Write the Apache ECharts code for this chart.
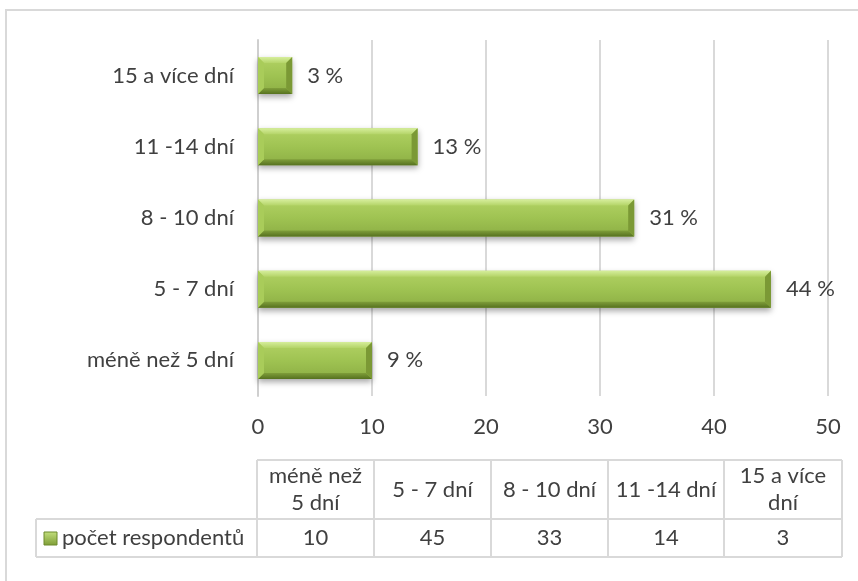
<!DOCTYPE html>
<html>
<head>
<meta charset="utf-8">
<script src="https://cdn.jsdelivr.net/npm/echarts@6/dist/echarts.min.js"></script>
<style>
    html, body { margin: 0; padding: 0; background: #fff; }
    #chart { width: 858px; height: 581px; }
</style>
</head>
<body>
<div id="chart"></div>
<script>
// data (bottom -> top on the category axis)
const categories = ['méně než 5 dní', '5 - 7 dní', '8 - 10 dní', '11 -14 dní', '15 a více dní'];
const tableHeaders = ['méně než\n5 dní', '5 - 7 dní', '8 - 10 dní', '11 -14 dní', '15 a více\ndní'];
const respondents = [10, 45, 33, 14, 3];
const pctLabels = ['9 %', '44 %', '31 %', '13 %', '3 %'];
const seriesName = 'počet respondentů';
const xTicks = [0, 10, 20, 30, 40, 50];

const FONT = 'Lato, "Open Sans", sans-serif';
const FS = 22;
const TXT = '#404040';
const LINE = '#d9d9d9';

const chart = echarts.init(document.getElementById('chart'));

// bar with bevel look, drawn through the axes
function renderBar(params, api) {
    const start = api.coord([0, api.value(1)]);
    const end = api.coord([api.value(0), api.value(1)]);
    const h = api.size([0, 1])[1] * 0.52;
    const x0 = start[0];
    const x1 = end[0];
    const y0 = start[1] - h / 2;
    const y1 = y0 + h;
    const b = 6; // bevel size
    return {
        type: 'group',
        children: [
            {
                type: 'rect',
                shape: { x: x0, y: y0, width: x1 - x0, height: h },
                style: {
                    fill: new echarts.graphic.LinearGradient(0, 0, 0, 1, [
                        { offset: 0, color: '#b2d264' },
                        { offset: 0.5, color: '#9fc352' },
                        { offset: 1, color: '#8cae44' }
                    ]),
                    shadowBlur: 6,
                    shadowOffsetY: 3,
                    shadowColor: 'rgba(0,0,0,0.35)'
                }
            },
            {   // top bevel
                type: 'polygon',
                shape: { points: [[x0, y0], [x1, y0], [x1 - b, y0 + b], [x0 + b, y0 + b]] },
                style: { fill: new echarts.graphic.LinearGradient(0, 0, 0, 1, [
                    { offset: 0, color: '#d6ee9c' },
                    { offset: 1, color: '#b4d468' }
                ]) }
            },
            {   // bottom bevel
                type: 'polygon',
                shape: { points: [[x0, y1], [x1, y1], [x1 - b, y1 - b], [x0 + b, y1 - b]] },
                style: { fill: new echarts.graphic.LinearGradient(0, 0, 0, 1, [
                    { offset: 0, color: '#7f9e3a' },
                    { offset: 1, color: '#56711f' }
                ]) }
            },
            {   // left bevel
                type: 'polygon',
                shape: { points: [[x0, y0], [x0 + b, y0 + b], [x0 + b, y1 - b], [x0, y1]] },
                style: { fill: '#a9cc5a' }
            },
            {   // right bevel
                type: 'polygon',
                shape: { points: [[x1, y0], [x1, y1], [x1 - b, y1 - b], [x1 - b, y0 + b]] },
                style: { fill: '#7b9935' }
            },
            {
                type: 'text',
                style: {
                    text: pctLabels[params.dataIndex],
                    x: x1 + 15,
                    y: (y0 + y1) / 2,
                    verticalAlign: 'middle',
                    fill: TXT,
                    font: FS + 'px ' + FONT
                }
            }
        ]
    };
}

// data table below the chart
const colEdges = [257, 374, 491, 608, 724, 842];
const rowTop = 460, rowMid = 519, rowBot = 557, legendLeft = 36;

function buildTable() {
    const els = [];
    const line = (x1, y1, x2, y2) => els.push({
        type: 'line',
        shape: { x1, y1, x2, y2 },
        style: { stroke: LINE, lineWidth: 2 }
    });
    line(colEdges[0], rowTop, colEdges[5], rowTop);
    line(legendLeft, rowMid, colEdges[5], rowMid);
    line(legendLeft, rowBot, colEdges[5], rowBot);
    line(legendLeft, rowMid, legendLeft, rowBot);
    colEdges.forEach(x => line(x, rowTop, x, rowBot));

    tableHeaders.forEach((c, i) => {
        const cx = (colEdges[i] + colEdges[i + 1]) / 2;
        els.push({
            type: 'text',
            style: {
                text: c,
                x: cx,
                y: (rowTop + rowMid) / 2,
                lineHeight: 27,
                align: 'center',
                verticalAlign: 'middle',
                fill: TXT,
                font: FS + 'px ' + FONT
            }
        });
        els.push({
            type: 'text',
            style: {
                text: String(respondents[i]),
                x: cx,
                y: (rowMid + rowBot) / 2,
                align: 'center',
                verticalAlign: 'middle',
                fill: TXT,
                font: FS + 'px ' + FONT
            }
        });
    });

    // legend key + series name
    els.push({
        type: 'rect',
        shape: { x: 44, y: 532, width: 13, height: 13 },
        style: {
            fill: new echarts.graphic.LinearGradient(0, 0, 0, 1, [
                { offset: 0, color: '#c4e07e' },
                { offset: 1, color: '#7d9c35' }
            ]),
            stroke: '#6d8a2c',
            lineWidth: 1
        }
    });
    els.push({
        type: 'text',
        style: {
            text: seriesName,
            x: 62,
            y: (rowMid + rowBot) / 2,
            verticalAlign: 'middle',
            fill: TXT,
            font: FS + 'px ' + FONT
        }
    });
    return els;
}

chart.setOption({
    animation: false,
    textStyle: { fontFamily: FONT },
    grid: { left: 258, right: 30, top: 40, bottom: 185 },
    xAxis: {
        type: 'value',
        min: xTicks[0],
        max: xTicks[xTicks.length - 1],
        interval: 10,
        axisLine: { show: false },
        axisTick: { show: false },
        splitLine: { lineStyle: { color: LINE, width: 2 } },
        axisLabel: { color: TXT, fontSize: FS, margin: 20 }
    },
    yAxis: {
        type: 'category',
        data: categories,
        axisLine: { show: true, lineStyle: { color: '#cfcfcf', width: 2 } },
        axisTick: { show: false },
        axisLabel: { color: TXT, fontSize: FS, margin: 24 }
    },
    graphic: [
        {
            type: 'rect',
            z: -10,
            shape: { x: 6, y: 10, width: 900, height: 620 },
            style: { fill: 'none', stroke: LINE, lineWidth: 2 }
        },
        { type: 'group', children: buildTable() }
    ],
    series: [{
        name: seriesName,
        type: 'custom',
        renderItem: renderBar,
        encode: { x: 0, y: 1 },
        data: respondents.map((v, i) => [v, i])
    }]
});
</script>
</body>
</html>
